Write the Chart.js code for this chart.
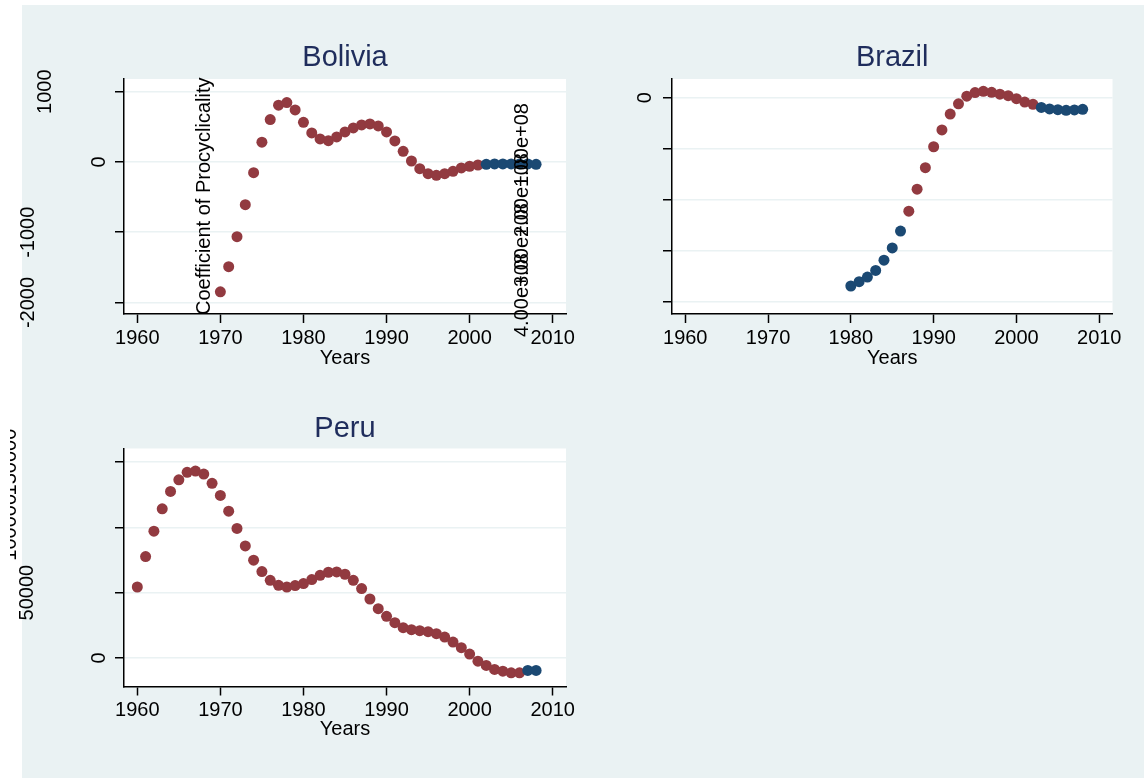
<!DOCTYPE html>
<html lang="en">
<head>
<meta charset="UTF-8">
<title>Coefficient of Procyclicality</title>
<script src="https://cdn.jsdelivr.net/npm/chart.js"></script>
<style>
  body, html {
    width: 1144px;
    height: 778px;
    margin: 0;
    padding: 0;
    overflow: hidden;
    background: #fff;
    position: relative;
  }
  .graph-bg {
    position: absolute;
    left: 22px;
    top: 5px;
    right: 0;
    bottom: 0;
    background: #eaf2f3;
  }
  canvas { position: absolute; }
</style>
</head>
<body>
<div class="graph-bg"></div>
<canvas id="bolivia" width="590" height="380" style="left:0;top:0"></canvas>
<canvas id="brazil" width="554" height="380" style="left:590px;top:0"></canvas>
<canvas id="peru" width="590" height="400" style="left:0;top:370px"></canvas>

<script>
const FONT = "'Liberation Sans', Arial, sans-serif";
const RED = '#923a40';
const BLUE = '#1b4973';
const GRID = '#eaf2f3';
const TITLE_COLOR = '#1f2d5c';

// shared year axis
const xTicks = [1960, 1970, 1980, 1990, 2000, 2010];
const xMin = 1958.4, xMax = 2011.6;

// Bolivia
const boliviaYears = [1970, 1971, 1972, 1973, 1974, 1975, 1976, 1977, 1978, 1979,
  1980, 1981, 1982, 1983, 1984, 1985, 1986, 1987, 1988, 1989,
  1990, 1991, 1992, 1993, 1994, 1995, 1996, 1997, 1998, 1999,
  2000, 2001, 2002, 2003, 2004, 2005, 2006, 2007, 2008];
const boliviaValues = [-1848, -1491, -1064, -608, -152, 281, 603, 808, 845, 741,
  565, 413, 328, 303, 356, 427, 484, 527, 541, 513,
  427, 299, 152, 14, -95, -167, -190, -167, -133, -85,
  -61, -43, -33, -28, -28, -28, -28, -28, -33];
const boliviaBlueYears = [2002, 2003, 2004, 2005, 2006, 2007, 2008];
const boliviaYTicks = [-2000, -1000, 0, 1000];
const boliviaYLabels = ['-2000', '-1000', '0', '1000'];
const boliviaStrayLabels = ['4.00e+08', '3.00e+08', '2.00e+08', '1.00e+08'];

// Brazil
const brazilYears = [1980, 1981, 1982, 1983, 1984, 1985, 1986, 1987, 1988, 1989,
  1990, 1991, 1992, 1993, 1994, 1995, 1996, 1997, 1998, 1999,
  2000, 2001, 2002, 2003, 2004, 2005, 2006, 2007, 2008];
const brazilValues = [-3685, -3600, -3510, -3380, -3180, -2940, -2610, -2220, -1790, -1370,
  -960, -630, -320, -120, 30, 100, 125, 105, 70, 40,
  -20, -85, -130, -190, -220, -235, -247, -240, -227];
const brazilBlueYears = [1980, 1981, 1982, 1983, 1984, 1985, 1986,
  2003, 2004, 2005, 2006, 2007, 2008];
const brazilYTicks = [-4000, -3000, -2000, -1000, 0];
const brazilYLabels = ['', '', '', '', '0'];

// Peru
const peruYears = [1960, 1961, 1962, 1963, 1964, 1965, 1966, 1967, 1968, 1969,
  1970, 1971, 1972, 1973, 1974, 1975, 1976, 1977, 1978, 1979,
  1980, 1981, 1982, 1983, 1984, 1985, 1986, 1987, 1988, 1989,
  1990, 1991, 1992, 1993, 1994, 1995, 1996, 1997, 1998, 1999,
  2000, 2001, 2002, 2003, 2004, 2005, 2006, 2007, 2008];
const peruValues = [54320, 77650, 97060, 114170, 127520, 136420, 142100, 143100, 140800, 133660,
  124450, 112400, 99130, 85780, 74810, 66140, 59460, 55630, 54320, 55400,
  56930, 60000, 63300, 65600, 65830, 64070, 59460, 53100, 45120, 37750,
  31840, 27010, 23170, 21640, 20870, 20100, 18570, 15960, 12120, 7830,
  2920, -2460, -5750, -8820, -10130, -11360, -11360, -9590, -9590];
const peruBlueYears = [2007, 2008];
const peruYTicks = [0, 50000, 100000, 150000];
const peruYLabels = ['0', '50000', '100000', '150000'];

// white plot region
const plotBackground = {
  id: 'plotBackground',
  beforeDraw(chart) {
    const {ctx, chartArea: a} = chart;
    ctx.save();
    ctx.fillStyle = '#fff';
    ctx.fillRect(a.left, a.top, a.right - a.left, a.bottom - a.top);
    ctx.restore();
  }
};

function drawRotated(ctx, text, x, y, align) {
  ctx.save();
  ctx.translate(x, y);
  ctx.rotate(-Math.PI / 2);
  ctx.textAlign = align;
  ctx.textBaseline = 'middle';
  ctx.fillText(text, 0, 0);
  ctx.restore();
}

// rotated y labels and loose text, positions given in page pixels
const sideText = {
  id: 'sideText',
  afterDatasetsDraw(chart, args, opts) {
    const {ctx} = chart;
    const yScale = chart.scales.y;
    const ox = opts.left, oy = opts.top;
    ctx.save();
    ctx.fillStyle = '#000';
    ctx.font = '20px ' + FONT;
    opts.ticks.forEach((v, i) => {
      const label = opts.labels[i];
      const px = opts.labelX[i];
      if (!label || px == null) return;
      ctx.save();
      if (opts.clipLeft != null) {
        ctx.beginPath();
        ctx.rect(opts.clipLeft - ox, 0, chart.width, chart.height);
        ctx.clip();
      }
      drawRotated(ctx, label, px - ox, yScale.getPixelForValue(v), 'center');
      ctx.restore();
    });
    (opts.notes || []).forEach(n => {
      drawRotated(ctx, n.text, n.x - ox, n.y - oy, 'left');
    });
    ctx.restore();
  }
};

function points(years, values, blueYears, blue) {
  return years
    .map((yr, i) => ({x: yr, y: values[i]}))
    .filter(p => blueYears.includes(p.x) === blue);
}

function makePanel(id, cfg) {
  const box = cfg.box, area = cfg.area;
  const titleHalf = 29 * 0.6;
  new Chart(document.getElementById(id), {
    type: 'scatter',
    data: {
      datasets: [
        {data: points(cfg.years, cfg.values, cfg.blueYears, true), backgroundColor: BLUE},
        {data: points(cfg.years, cfg.values, cfg.blueYears, false), backgroundColor: RED}
      ]
    },
    options: {
      responsive: false,
      animation: false,
      events: [],
      elements: {point: {radius: 5.5, borderWidth: 0, pointStyle: 'circle'}},
      layout: {
        autoPadding: false,
        padding: {left: 0, top: 0, bottom: 0, right: box.w - (area.r - box.x)}
      },
      plugins: {
        legend: {display: false},
        tooltip: {enabled: false},
        title: {
          display: true,
          text: cfg.title,
          fullSize: false,
          color: TITLE_COLOR,
          font: {family: FONT, size: 29, weight: 'normal', lineHeight: 1.2},
          padding: {top: cfg.titleY - box.y - titleHalf, bottom: area.t - cfg.titleY - titleHalf}
        },
        sideText: {
          left: box.x, top: box.y,
          ticks: cfg.yTicks, labels: cfg.yLabels, labelX: cfg.labelX,
          clipLeft: cfg.clipLeft, notes: cfg.notes
        }
      },
      scales: {
        x: {
          type: 'linear',
          min: xMin,
          max: xMax,
          afterBuildTicks: s => { s.ticks = xTicks.map(v => ({value: v})); },
          afterFit: s => { s.height = box.y + box.h - area.b; },
          grid: {drawOnChartArea: false, tickLength: 9, tickColor: '#000', tickWidth: 1.5},
          border: {color: '#000', width: 1.5},
          ticks: {color: '#000', font: {family: FONT, size: 20}, padding: 3, maxRotation: 0,
                  callback: v => String(v)},
          title: {display: true, text: 'Years', color: '#000', font: {family: FONT, size: 20},
                  padding: {top: 0, bottom: box.y + box.h - cfg.yearsY - 12}}
        },
        y: {
          min: cfg.yMin,
          max: cfg.yMax,
          afterBuildTicks: s => { s.ticks = cfg.yTicks.map(v => ({value: v})); },
          afterFit: s => { s.width = area.l - box.x; },
          grid: {color: GRID, lineWidth: 1.5, tickLength: 9, tickColor: '#000', tickWidth: 1.5},
          border: {color: '#000', width: 1.5},
          ticks: {display: false}
        }
      }
    },
    plugins: [plotBackground, sideText]
  });
}

makePanel('bolivia', {
  title: 'Bolivia',
  years: boliviaYears, values: boliviaValues, blueYears: boliviaBlueYears,
  yTicks: boliviaYTicks, yLabels: boliviaYLabels,
  yMin: -2164, yMax: 1181,
  box: {x: 0, y: 0, w: 590, h: 380},
  area: {l: 124, t: 79, r: 566, b: 314},
  titleY: 58, yearsY: 358,
  labelX: [28, 28, 99.5, 45.5],
  notes: [{text: 'Coefficient of Procyclicality', x: 204, y: 315}]
    .concat(boliviaStrayLabels.map((t, i) => ({text: t, x: 522, y: 337 - 50 * i})))
});

makePanel('brazil', {
  title: 'Brazil',
  years: brazilYears, values: brazilValues, blueYears: brazilBlueYears,
  yTicks: brazilYTicks, yLabels: brazilYLabels,
  yMin: -4233, yMax: 366,
  box: {x: 590, y: 0, w: 554, h: 380},
  area: {l: 672, t: 79, r: 1112.5, b: 314},
  titleY: 58, yearsY: 358,
  labelX: [null, null, null, null, 645.5]
});

makePanel('peru', {
  title: 'Peru',
  years: peruYears, values: peruValues, blueYears: peruBlueYears,
  yTicks: peruYTicks, yLabels: peruYLabels,
  yMin: -21870, yMax: 160360,
  box: {x: 0, y: 370, w: 590, h: 400},
  area: {l: 124, t: 448.5, r: 566, b: 686.5},
  titleY: 429, yearsY: 729,
  labelX: [99.5, 27.5, 10.5, 10.5],
  clipLeft: 10
});
</script>
</body>
</html>
